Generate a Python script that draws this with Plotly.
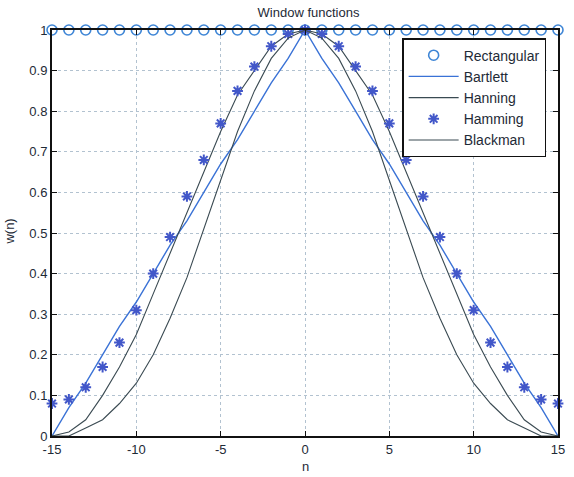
import plotly.graph_objects as go

# sample index
n = list(range(-15, 16))

# window values, one per sample
rectangular = [1.0] * 31
bartlett_half = [0.00, 0.07, 0.13, 0.20, 0.27, 0.33, 0.40, 0.47,
                 0.53, 0.60, 0.67, 0.73, 0.80, 0.87, 0.93, 1.00]
hanning_half = [0.00, 0.01, 0.04, 0.10, 0.17, 0.25, 0.35, 0.45,
                0.55, 0.65, 0.75, 0.84, 0.90, 0.96, 0.99, 1.00]
hamming_half = [0.08, 0.09, 0.12, 0.17, 0.23, 0.31, 0.40, 0.49,
                0.59, 0.68, 0.77, 0.85, 0.91, 0.96, 0.99, 1.00]
blackman_half = [0.00, 0.00, 0.02, 0.04, 0.08, 0.13, 0.20, 0.29,
                 0.39, 0.51, 0.63, 0.75, 0.85, 0.93, 0.98, 1.00]

def symmetric(half):
    return half + half[-2::-1]

bartlett = symmetric(bartlett_half)
hanning = symmetric(hanning_half)
hamming = symmetric(hamming_half)
blackman = symmetric(blackman_half)

x_ticks = [-15, -10, -5, 0, 5, 10, 15]
x_tick_text = ["-15", "-10", "-5", "0", "5", "10", "15"]
y_ticks = [0, 0.1, 0.2, 0.3, 0.4, 0.5, 0.6, 0.7, 0.8, 0.9, 1]
y_tick_text = ["0", "0.1", "0.2", "0.3", "0.4", "0.5", "0.6", "0.7", "0.8", "0.9", "1"]

FONT = "Liberation Sans, Arial, sans-serif"
TXT = "#1e2a36"
GRID = "#b2c2d0"

fig = go.Figure()
fig.add_trace(go.Scatter(
    x=n, y=rectangular, mode="markers", name="Rectangular", legendgroup="a",
    marker=dict(symbol="circle-open", size=10, color="#3f86d6", line=dict(width=1.6)),
    cliponaxis=False))
fig.add_trace(go.Scatter(
    x=n, y=bartlett, mode="lines", name="Bartlett", legendgroup="b",
    line=dict(color="#3a72d6", width=1.4)))
fig.add_trace(go.Scatter(
    x=n, y=hanning, mode="lines", name="Hanning", legendgroup="c",
    line=dict(color="#3a4a52", width=1.1)))
fig.add_trace(go.Scatter(
    x=n, y=hamming, mode="markers", name="Hamming", legendgroup="d",
    marker=dict(symbol="asterisk-open", size=9, color="#4257c9", line=dict(width=2, color="#4257c9")),
    cliponaxis=False))
fig.add_trace(go.Scatter(
    x=n, y=blackman, mode="lines", name="Blackman", legendgroup="e",
    line=dict(color="#3a4a52", width=1.1)))

axis_common = dict(
    showline=True, linecolor="#111111", linewidth=2, mirror="allticks",
    ticks="inside", ticklen=5, tickcolor="#111111", tickwidth=1,
    showgrid=True, gridcolor=GRID, griddash="dot", gridwidth=1,
    zeroline=False, tickfont=dict(family=FONT, size=13, color=TXT),
)

fig.update_xaxes(range=[-15, 15], tickvals=x_ticks, ticktext=x_tick_text, **axis_common)
fig.update_yaxes(range=[0, 1], tickvals=y_ticks, ticktext=y_tick_text, **axis_common)

fig.update_layout(
    width=574, height=477,
    margin=dict(l=52, r=9, t=30, b=41),
    paper_bgcolor="white", plot_bgcolor="white",
    font=dict(family=FONT, size=13, color=TXT),
    title=dict(text="Window functions", x=(52 + 565) / 2 / 574, xanchor="center",
               y=1 - 12 / 477, yanchor="middle", yref="container",
               font=dict(family=FONT, size=13, color=TXT)),
    legend=dict(x=0.692, y=0.98, xanchor="left", yanchor="top",
                bgcolor="white", bordercolor="#111111", borderwidth=1.5,
                font=dict(family=FONT, size=14, color=TXT),
                tracegroupgap=0, itemwidth=50),
    showlegend=True,
    annotations=[
        dict(text="n", x=0.5, xref="paper", y=-(466 - 436) / 406, yref="paper",
             showarrow=False, yanchor="middle", font=dict(family=FONT, size=13, color=TXT)),
        dict(text="w(n)", x=-43 / 513, xref="paper", xanchor="center",
             y=(436 - 232) / 406, yref="paper", yanchor="middle",
             showarrow=False, textangle=-90, font=dict(family=FONT, size=13, color=TXT)),
    ],
)

fig.write_html("out.html")
